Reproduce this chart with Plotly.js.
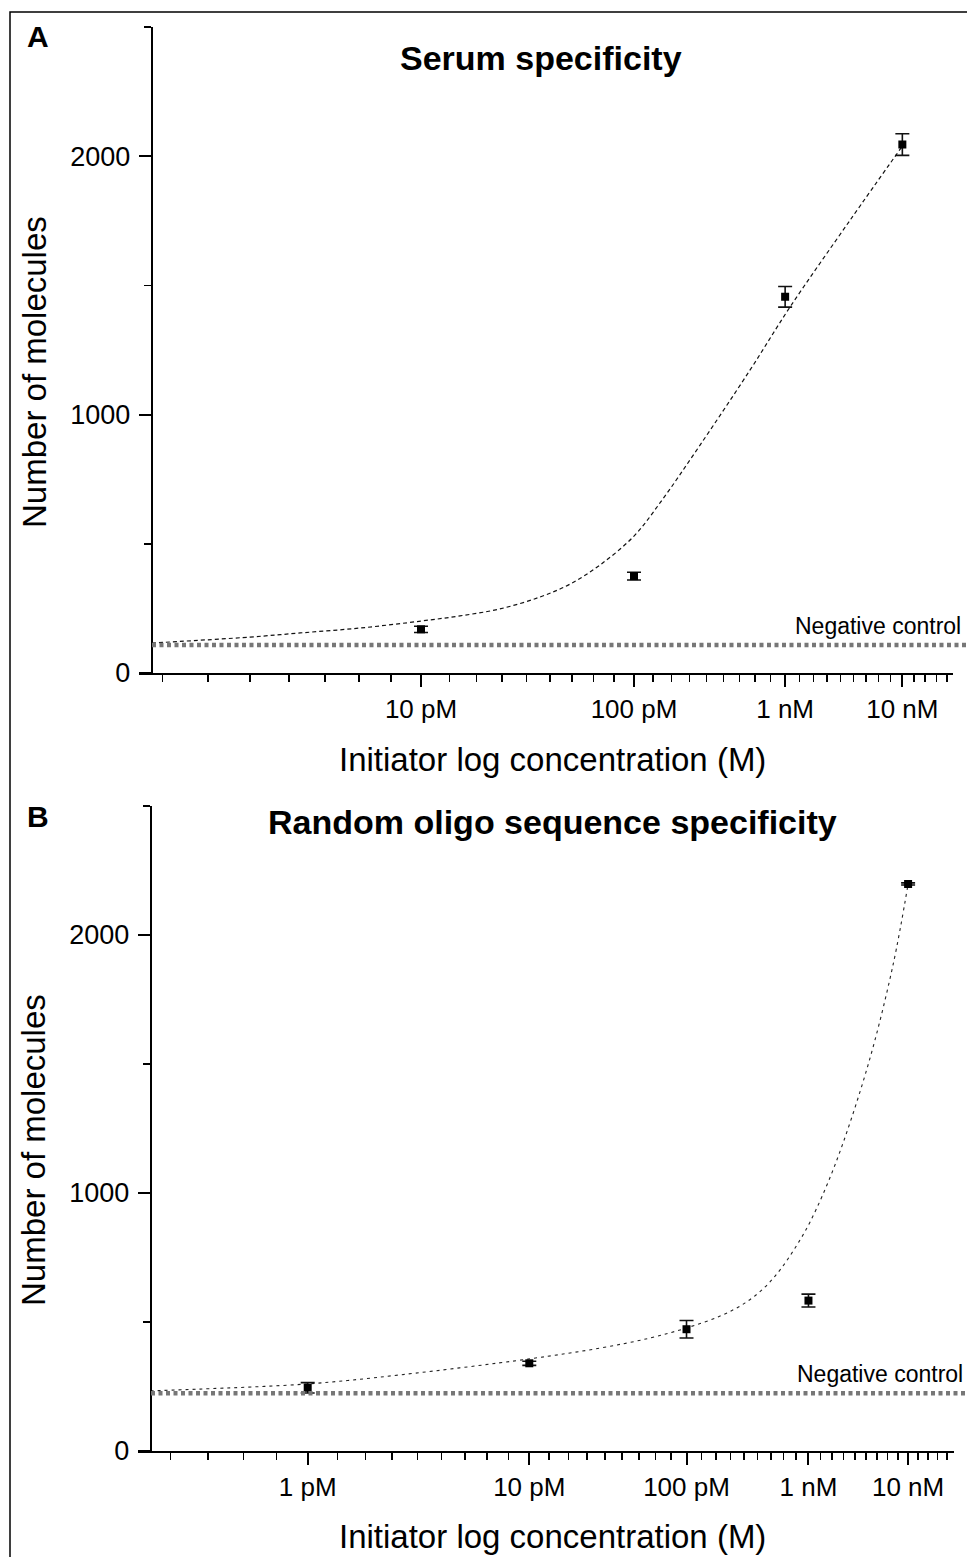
<!DOCTYPE html>
<html>
<head>
<meta charset="utf-8">
<script src="https://cdn.plot.ly/plotly-3.0.1.min.js"></script>
<style>html,body{margin:0;padding:0;background:#fff;}#chart{width:967px;height:1557px;}</style>
</head>
<body>
<div id="chart"></div>
<script>
// ---------------- Data ----------------
// Panel A: Serum specificity
const tickLabelsA = ['10 pM', '100 pM', '1 nM', '10 nM'];
const logConcA = [-11, -10, -9, -8];              // log10 concentration (M)
const moleculesA = [169, 375, 1456, 2045];
const errorA = [12, 15, 40, 42];
const negControlA = 108;
const fitLogConcA = [-11.802, -11.556, -11.411, -11.219, -11.0, -10.846, -10.676, -10.492, -10.344, -10.188, -10.0, -9.848, -9.598, -9.259, -8.963, -8.474, -8.0];
const fitMoleculesA = [116, 139, 155, 174, 201, 221, 248, 294, 344, 418, 530, 658, 882, 1172, 1416, 1752, 2039];

// Panel B: Random oligo sequence specificity
const tickLabelsB = ['1 pM', '10 pM', '100 pM', '1 nM', '10 nM'];
const logConcB = [-12, -11, -10, -9, -8];
const moleculesB = [245, 340, 472, 583, 2198];
const errorB = [20, 8, 34, 25, 4];
const negControlB = 224;
const fitLogConcB = [-12.5, -12.358, -12.0, -11.632, -11.0, -10.585, -10.258, -10.0, -9.746, -9.547, -9.381, -9.253, -9.121, -8.985, -8.751, -8.424, -8.163, -8.0];
const fitMoleculesB = [233, 240, 260, 295, 357, 399, 438, 477, 523, 574, 636, 702, 787, 888, 1109, 1496, 1884, 2198];

// ---------------- Axis configuration ----------------
// The x axes are logarithmic in (log10 concentration + offset)
const OFFSET_A = 13, OFFSET_B = 14;
const W = 967, H = 1557;
const px = v => v / W;             // horizontal pixel -> paper
const py = v => 1 - v / H;         // vertical pixel -> paper

const axA = u => u + OFFSET_A;
const axB = u => u + OFFSET_B;

function minorVals(kmin, kmax) {
  const out = [];
  for (let k = kmin; k <= kmax; k++) if (k % 9 !== 0) out.push(k / 9);
  return out;
}

const FONT = 'Arial, "Liberation Sans", sans-serif';
const black = '#000';

const ptsStyle = (xs, ys, es, xa, ya) => ({
  x: xs, y: ys, xaxis: xa, yaxis: ya, type: 'scatter', mode: 'markers',
  marker: {symbol: 'square', size: 8, color: black},
  error_y: {type: 'data', array: es, visible: true, color: '#111', thickness: 1.6, width: 7},
  hoverinfo: 'x+y'
});

const traces = [
  {x: fitLogConcA.map(axA), y: fitMoleculesA, xaxis: 'x', yaxis: 'y', type: 'scatter', mode: 'lines',
   line: {color: '#111', width: 1.2, dash: '4px,3px', shape: 'spline', smoothing: 1}},
  ptsStyle(logConcA.map(axA), moleculesA, errorA, 'x', 'y'),
  {x: fitLogConcB.map(axB), y: fitMoleculesB, xaxis: 'x2', yaxis: 'y2', type: 'scatter', mode: 'lines',
   line: {color: '#222', width: 1.1, dash: '3px,4px', shape: 'spline', smoothing: 1}},
  ptsStyle(logConcB.map(axB), moleculesB, errorB, 'x2', 'y2')
];

const xCommon = {
  type: 'log', showline: true, linecolor: black, linewidth: 2, ticks: 'outside', ticklen: 12, tickwidth: 2,
  tickcolor: black, showgrid: false, zeroline: false, tickmode: 'array',
  tickfont: {family: FONT, size: 26, color: black}
};
const yCommon = {
  showline: true, linecolor: black, linewidth: 2, ticks: 'outside', ticklen: 12, tickwidth: 2, tickcolor: black,
  showgrid: false, zeroline: false, range: [0, 2500], tickmode: 'array', tickvals: [0, 1000, 2000],
  tickfont: {family: FONT, size: 27, color: black}, anchor: 'free', ticklabelstandoff: 3,
  minor: {tickmode: 'array', tickvals: [500, 1500, 2500], ticks: 'outside', ticklen: 7, tickwidth: 1.5, tickcolor: black, showgrid: false}
};

const layout = {
  width: W, height: H, margin: {l: 0, r: 0, t: 0, b: 0}, showlegend: false,
  paper_bgcolor: '#fff', plot_bgcolor: 'rgba(0,0,0,0)',
  font: {family: FONT, color: black},
  xaxis: Object.assign({}, xCommon, {
    domain: [px(139), px(952.7)], range: [0.06788, 0.74060], anchor: 'y',
    tickvals: logConcA.map(axA), ticktext: tickLabelsA,
    minor: {tickmode: 'array', tickvals: minorVals(11, 49), ticks: 'outside', ticklen: 7, tickwidth: 1.5, tickcolor: black, showgrid: false}
  }),
  yaxis: Object.assign({}, yCommon, {domain: [py(673), py(27)], position: px(151.7)}),
  xaxis2: Object.assign({}, xCommon, {
    domain: [px(138.3), px(954)], range: [0.16641, 0.81463], anchor: 'y2',
    tickvals: logConcB.map(axB), ticktext: tickLabelsB,
    minor: {tickmode: 'array', tickvals: minorVals(14, 58), ticks: 'outside', ticklen: 7, tickwidth: 1.5, tickcolor: black, showgrid: false}
  }),
  yaxis2: Object.assign({}, yCommon, {domain: [py(1451), py(806)], position: px(150.7)}),
  shapes: [
    {type: 'line', xref: 'paper', yref: 'y', x0: px(152), x1: 1, y0: negControlA, y1: negControlA,
     line: {color: '#777', width: 4.5, dash: '4px,3.5px'}},
    {type: 'line', xref: 'paper', yref: 'y2', x0: px(151), x1: 1, y0: negControlB, y1: negControlB,
     line: {color: '#777', width: 4.5, dash: '4px,3.5px'}},
    {type: 'rect', xref: 'paper', yref: 'paper', x0: px(10), x1: px(990), y0: py(1575), y1: py(12),
     line: {color: black, width: 1.5}, fillcolor: 'rgba(0,0,0,0)'}
  ],
  annotations: [
    {text: '<b>A</b>', xref: 'paper', yref: 'paper', x: px(38), y: py(37), xanchor: 'center', yanchor: 'middle', showarrow: false, font: {family: FONT, size: 30, color: black}},
    {text: '<b>B</b>', xref: 'paper', yref: 'paper', x: px(38), y: py(816), xanchor: 'center', yanchor: 'middle', showarrow: false, font: {family: FONT, size: 30, color: black}},
    {text: '<b>Serum specificity</b>', xref: 'paper', yref: 'paper', x: px(541), y: py(58), xanchor: 'center', yanchor: 'middle', showarrow: false, font: {family: FONT, size: 34, color: black}},
    {text: '<b>Random oligo sequence specificity</b>', xref: 'paper', yref: 'paper', x: px(552), y: py(822), xanchor: 'center', yanchor: 'middle', showarrow: false, font: {family: FONT, size: 34, color: black}},
    {text: 'Number of molecules', xref: 'paper', yref: 'paper', x: px(35), y: py(372), xanchor: 'center', yanchor: 'middle', textangle: -90, showarrow: false, font: {family: FONT, size: 33, color: black}},
    {text: 'Number of molecules', xref: 'paper', yref: 'paper', x: px(33), y: py(1150), xanchor: 'center', yanchor: 'middle', textangle: -90, showarrow: false, font: {family: FONT, size: 33, color: black}},
    {text: 'Initiator log concentration (M)', xref: 'paper', yref: 'paper', x: px(552), y: py(759), xanchor: 'center', yanchor: 'middle', showarrow: false, font: {family: FONT, size: 33, color: black}},
    {text: 'Initiator log concentration (M)', xref: 'paper', yref: 'paper', x: px(552), y: py(1536), xanchor: 'center', yanchor: 'middle', showarrow: false, font: {family: FONT, size: 33, color: black}},
    {text: 'Negative control', xref: 'paper', yref: 'paper', x: px(963), y: py(626), xanchor: 'right', yanchor: 'middle', showarrow: false, font: {family: FONT, size: 23, color: black}},
    {text: 'Negative control', xref: 'paper', yref: 'paper', x: px(965), y: py(1374), xanchor: 'right', yanchor: 'middle', showarrow: false, font: {family: FONT, size: 23, color: black}}
  ]
};

Plotly.newPlot('chart', traces, layout, {staticPlot: true, displayModeBar: false});
</script>
</body>
</html>
